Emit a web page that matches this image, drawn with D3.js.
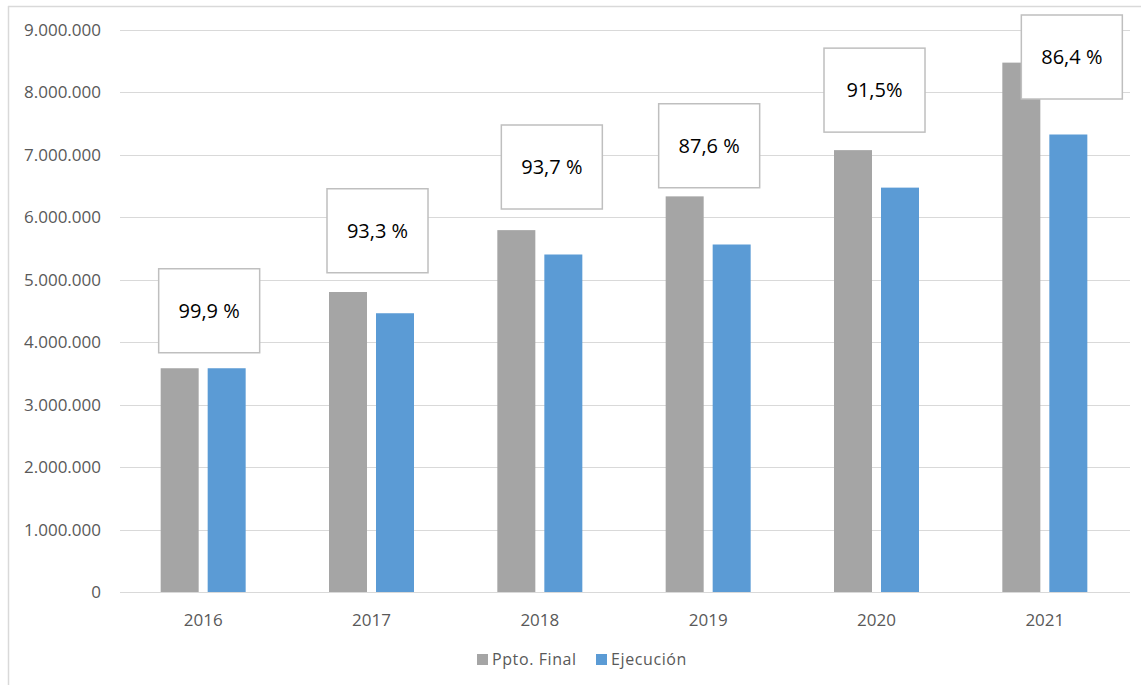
<!DOCTYPE html>
<html>
<head>
<meta charset="utf-8">
<script src="https://cdn.jsdelivr.net/npm/d3@7"></script>
<style>
  body { margin: 0; background: #fff; }
  text { font-family: "Open Sans", "Noto Sans", sans-serif; }
</style>
</head>
<body>
<div id="chart"></div>
<script>
// data
var years = ["2016", "2017", "2018", "2019", "2020", "2021"];
var pptoFinal = [3580000, 4800000, 5790000, 6330000, 7070000, 8470000];
var ejecucion = [3580000, 4460000, 5400000, 5560000, 6470000, 7320000];
var pctLabels = ["99,9 %", "93,3 %", "93,7 %", "87,6 %", "91,5%", "86,4 %"];
// where each label box sits (center, in value units / px offset from category center)
var labelY = [4500000, 5780000, 6800000, 7140000, 8030000, 8560000];
var labelDx = [6, 6, 12, 1, -2, 27];
var yTicks = [0, 1000000, 2000000, 3000000, 4000000, 5000000, 6000000, 7000000, 8000000, 9000000];
var seriesNames = ["Ppto. Final", "Ejecución"];
var colors = ["#A5A5A5", "#5B9BD5"];

var width = 1141, height = 685;

var svg = d3.select("#chart")
    .append("svg")
    .attr("width", width)
    .attr("height", height);

// chart frame (only left/top edges visible)
svg.append("line")
    .attr("x1", 8.5).attr("y1", 6).attr("x2", 8.5).attr("y2", height)
    .style("stroke", "#D9D9D9").style("stroke-width", 1.5);
svg.append("line")
    .attr("x1", 8).attr("y1", 6.5).attr("x2", width).attr("y2", 6.5)
    .style("stroke", "#D9D9D9").style("stroke-width", 1.5);

var x = d3.scaleBand()
    .domain(years)
    .range([119, 1129]);

var y = d3.scaleLinear()
    .domain([0, 9000000])
    .range([592, 29.5]);

var fmt = function(v) {
    return d3.format(",")(v).replace(/,/g, ".");
};

// gridlines
svg.selectAll(".grid")
    .data(yTicks)
    .enter().append("line")
    .attr("class", "grid")
    .attr("x1", 120)
    .attr("x2", 1130)
    .attr("y1", function(d) { return Math.round(y(d)) + 0.5; })
    .attr("y2", function(d) { return Math.round(y(d)) + 0.5; })
    .style("stroke", "#D9D9D9")
    .style("stroke-width", 1);

// y tick labels
svg.selectAll(".ytick")
    .data(yTicks)
    .enter().append("text")
    .attr("class", "ytick")
    .attr("x", 101)
    .attr("y", function(d) { return y(d) + 6; })
    .style("text-anchor", "end")
    .style("font-size", "17px")
    .style("fill", "#595959")
    .text(fmt);

// x labels
svg.selectAll(".xtick")
    .data(years)
    .enter().append("text")
    .attr("class", "xtick")
    .attr("x", function(d) { return x(d) + x.bandwidth() / 2; })
    .attr("y", 626)
    .style("text-anchor", "middle")
    .style("font-size", "17px")
    .style("fill", "#595959")
    .text(function(d) { return d; });

var barW = 38, gap = 9;
var series = [pptoFinal, ejecucion];

series.forEach(function(vals, s) {
    svg.selectAll(".bar" + s)
        .data(years)
        .enter().append("rect")
        .attr("class", "bar" + s)
        .attr("x", function(d) {
            var c = x(d) + x.bandwidth() / 2;
            return c - barW - gap / 2 + s * (barW + gap);
        })
        .attr("y", function(d, i) { return y(vals[i]); })
        .attr("width", barW)
        .attr("height", function(d, i) { return y(0) - y(vals[i]); })
        .style("fill", colors[s]);
});

// percentage label boxes
var boxW = 101, boxH = 84;
var lab = svg.selectAll(".lab")
    .data(years)
    .enter().append("g")
    .attr("class", "lab")
    .attr("transform", function(d, i) {
        var cx = x(d) + x.bandwidth() / 2 + labelDx[i];
        return "translate(" + cx + "," + y(labelY[i]) + ")";
    });
lab.append("rect")
    .attr("x", -boxW / 2)
    .attr("y", -boxH / 2)
    .attr("width", boxW)
    .attr("height", boxH)
    .style("fill", "#fff")
    .style("stroke", "#BFBFBF")
    .style("stroke-width", 1.5);
lab.append("text")
    .attr("x", 0)
    .attr("y", 7)
    .style("text-anchor", "middle")
    .style("font-size", "20px")
    .style("fill", "#000")
    .text(function(d, i) { return pctLabels[i]; });

// legend
var legX = [477, 596];
seriesNames.forEach(function(name, s) {
    svg.append("rect")
        .attr("x", legX[s])
        .attr("y", 654)
        .attr("width", 11)
        .attr("height", 11)
        .style("fill", colors[s]);
    svg.append("text")
        .attr("x", legX[s] + 15)
        .attr("y", 665)
        .style("font-size", "16px")
        .style("letter-spacing", "0.6px")
        .style("fill", "#595959")
        .text(name);
});
</script>
</body>
</html>
